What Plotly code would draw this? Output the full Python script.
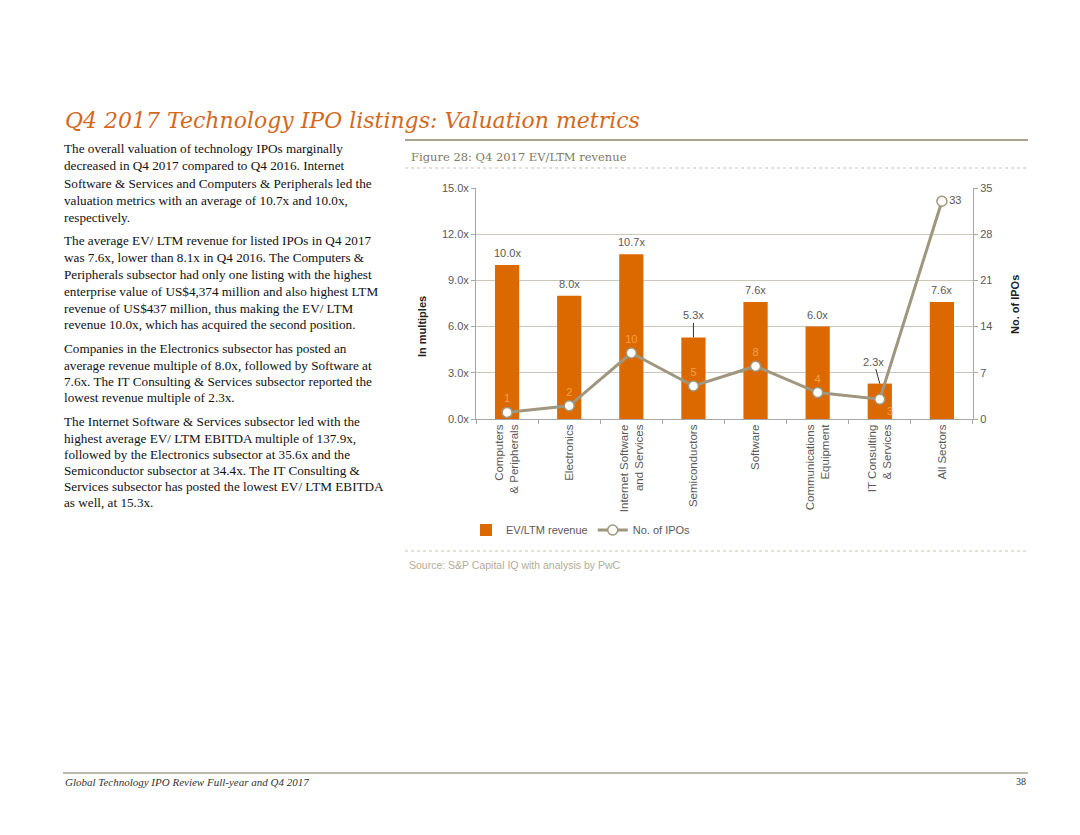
import plotly.graph_objects as go

categories = ["Computers<br>& Peripherals", "Electronics", "Internet Software<br>and Services",
              "Semiconductors", "Software", "Communications<br>Equipment",
              "IT Consulting<br>& Services", "All Sectors"]
ev_ltm_revenue = [10.0, 8.0, 10.7, 5.3, 7.6, 6.0, 2.3, 7.6]
no_of_ipos = [1, 2, 10, 5, 8, 4, 3, 33]
left_ticks = [0, 3, 6, 9, 12, 15]
right_ticks = [0, 7, 14, 21, 28, 35]

body_lines = [
    (148, "The overall valuation of technology IPOs marginally"),
    (166, "decreased in Q4 2017 compared to Q4 2016. Internet"),
    (183, "Software & Services and Computers & Peripherals led the"),
    (200, "valuation metrics with an average of 10.7x and 10.0x,"),
    (217, "respectively."),
    (240, "The average EV/ LTM revenue for listed IPOs in Q4 2017"),
    (257, "was 7.6x, lower than 8.1x in Q4 2016. The Computers &"),
    (274, "Peripherals subsector had only one listing with the highest"),
    (291, "enterprise value of US$4,374 million and also highest LTM"),
    (308, "revenue of US$437 million, thus making the EV/ LTM"),
    (324, "revenue 10.0x, which has acquired the second position."),
    (348, "Companies in the Electronics subsector has posted an"),
    (365, "average revenue multiple of 8.0x, followed by Software at"),
    (381, "7.6x. The IT Consulting & Services subsector reported the"),
    (397, "lowest revenue multiple of 2.3x."),
    (421, "The Internet Software & Services subsector led with the"),
    (438, "highest average EV/ LTM EBITDA multiple of 137.9x,"),
    (454, "followed by the Electronics subsector at 35.6x and the"),
    (470, "Semiconductor subsector at 34.4x. The IT Consulting &"),
    (486, "Services subsector has posted the lowest EV/ LTM EBITDA"),
    (502, "as well, at 15.3x."),
]

OFF = 8  # page offset of the plot inside the browser window
W, H = 1080 - OFF, 835 - OFF
PL, PR, PT, PB = 476 - OFF, 973 - OFF, 188 - OFF, 419 - OFF
ORANGE = "#DC6900"
LINEC = "#9E967E"
GRID = "#CCC7B8"
TXT = "#595959"


def px(x):
    return (x - OFF - PL) / (PR - PL)


def py(y):
    return (PB - (y - OFF)) / (PB - PT)


fig = go.Figure()
fig.add_trace(go.Bar(
    x=categories, y=ev_ltm_revenue, name="EV/LTM revenue",
    marker=dict(color=ORANGE, line=dict(width=0)), width=0.39, yaxis="y",
))
label_pos = ["top center"] * 6 + ["bottom right", "middle right"]
label_col = ["#F5A048"] * 7 + [TXT]
fig.add_trace(go.Scatter(
    x=categories, y=no_of_ipos, name="No. of IPOs", yaxis="y2",
    mode="lines+markers+text", text=[str(v) for v in no_of_ipos],
    textposition=label_pos, textfont=dict(color=label_col, size=11, family="Arial, Liberation Sans"),
    line=dict(color=LINEC, width=3),
    marker=dict(size=10, color="white", line=dict(color=LINEC, width=1.5)),
))

annotations = []
lab_font = dict(size=11, color=TXT, family="Arial, Liberation Sans")
for i, (c, v) in enumerate(zip(categories, ev_ltm_revenue)):
    if i == 3:
        annotations.append(dict(x=c, y=v, xref="x", yref="y", text=f"{v:.1f}x", showarrow=True,
                                arrowhead=0, arrowwidth=1, arrowcolor="#333333", ax=0, ay=-22,
                                font=lab_font))
    elif i == 6:
        annotations.append(dict(x=c, y=v, xref="x", yref="y", text=f"{v:.1f}x", showarrow=True,
                                arrowhead=0, arrowwidth=1, arrowcolor="#333333", ax=-6, ay=-22,
                                font=lab_font))
    else:
        annotations.append(dict(x=c, y=v, xref="x", yref="y", text=f"{v:.1f}x", showarrow=False,
                                yanchor="bottom", yshift=4, font=lab_font))

annotations.append(dict(x=px(422), y=py(327), xref="paper", yref="paper", text="<b>In multiples</b>",
                        textangle=-90, showarrow=False, xanchor="center", yanchor="middle",
                        font=dict(size=11, color="#222222", family="Arial, Liberation Sans")))
annotations.append(dict(x=px(1015), y=py(305), xref="paper", yref="paper", text="<b>No. of IPOs</b>",
                        textangle=-90, showarrow=False, xanchor="center", yanchor="middle",
                        font=dict(size=11, color="#222222", family="Arial, Liberation Sans")))

annotations.append(dict(x=px(63), y=py(120), xref="paper", yref="paper",
                        text="<i>Q4 2017 Technology IPO listings: Valuation metrics</i>",
                        showarrow=False, xanchor="left", yanchor="middle",
                        font=dict(size=22, color="#D2691E", family="DejaVu Serif")))
annotations.append(dict(x=px(409), y=py(157), xref="paper", yref="paper",
                        text="Figure 28: Q4 2017 EV/LTM revenue",
                        showarrow=False, xanchor="left", yanchor="middle",
                        font=dict(size=11.5, color="#7F7966", family="DejaVu Serif")))
annotations.append(dict(x=px(407), y=py(565), xref="paper", yref="paper",
                        text="Source: S&P Capital IQ with analysis by PwC",
                        showarrow=False, xanchor="left", yanchor="middle",
                        font=dict(size=10.5, color="#B3AC98", family="Arial, Liberation Sans")))
annotations.append(dict(x=px(63), y=py(782), xref="paper", yref="paper",
                        text="<i>Global Technology IPO Review Full-year and Q4 2017</i>",
                        showarrow=False, xanchor="left", yanchor="middle",
                        font=dict(size=11, color="#333333", family="Liberation Serif, DejaVu Serif")))
annotations.append(dict(x=px(1028), y=py(782), xref="paper", yref="paper",
                        text="38", showarrow=False, xanchor="right", yanchor="middle",
                        font=dict(size=10, color="#333333", family="Liberation Serif, DejaVu Serif")))
for yy, line in body_lines:
    annotations.append(dict(x=px(62), y=py(yy), xref="paper", yref="paper", text=line,
                            showarrow=False, xanchor="left", yanchor="middle",
                            font=dict(size=13.2, color="#111111", family="Liberation Serif, DejaVu Serif")))

shapes = [
    dict(type="line", xref="paper", yref="paper", x0=px(405), x1=px(1028), y0=py(140), y1=py(140),
         line=dict(color="#A9A38F", width=2)),
    dict(type="line", xref="paper", yref="paper", x0=px(405), x1=px(1028), y0=py(168), y1=py(168),
         line=dict(color="#C8C3B3", width=1, dash="dot")),
    dict(type="line", xref="paper", yref="paper", x0=px(405), x1=px(1028), y0=py(551), y1=py(551),
         line=dict(color="#C8C3B3", width=1, dash="dot")),
    dict(type="line", xref="paper", yref="paper", x0=px(63), x1=px(1028), y0=py(773), y1=py(773),
         line=dict(color="#A9A38F", width=1.5)),
]

fig.update_layout(
    width=W, height=H,
    margin=dict(l=PL, r=W - PR, t=PT, b=H - PB, autoexpand=False),
    paper_bgcolor="white", plot_bgcolor="white",
    font=dict(family="Arial, Liberation Sans", size=11, color=TXT),
    xaxis=dict(showline=True, linecolor="#A6A6A6", linewidth=1, ticks="outside", tickson="boundaries",
               ticklen=4, tickcolor="#A6A6A6", tickangle=-90, tickfont=dict(size=11.5, color=TXT),
               showgrid=False),
    yaxis=dict(range=[0, 15], tickvals=left_ticks, ticktext=[f"{t:.1f}x" for t in left_ticks],
               showline=True, linecolor="#A6A6A6", ticks="outside", ticklen=4, tickcolor="#A6A6A6",
               gridcolor=GRID, gridwidth=1, zeroline=False, tickfont=dict(size=11, color=TXT)),
    yaxis2=dict(range=[0, 35], tickvals=right_ticks, overlaying="y", side="right",
                showline=True, linecolor="#A6A6A6", ticks="outside", ticklen=4, tickcolor="#A6A6A6",
                showgrid=False, zeroline=False, tickfont=dict(size=11, color=TXT)),
    legend=dict(orientation="h", x=px(466), y=py(530), xanchor="left", yanchor="middle",
                font=dict(size=11, color=TXT), tracegroupgap=0, bgcolor="rgba(0,0,0,0)"),
    annotations=annotations,
    shapes=shapes,
)

fig.write_html("out.html")
